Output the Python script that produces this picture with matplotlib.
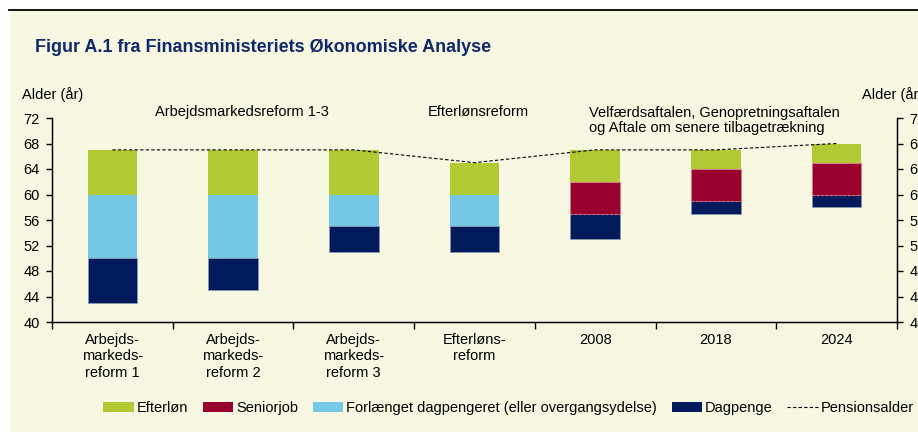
import numpy as np
import matplotlib
matplotlib.use('Agg')
import matplotlib.pyplot as plt
from matplotlib.patches import Rectangle, Patch
from matplotlib.lines import Line2D

plt.rcParams['font.family'] = ['Liberation Sans', 'DejaVu Sans']

# data (alder i år)
kategorier = ['Arbejds-\nmarkeds-\nreform 1', 'Arbejds-\nmarkeds-\nreform 2', 'Arbejds-\nmarkeds-\nreform 3',
              'Efterløns-\nreform', '2008', '2018', '2024']
dagpenge_start = [43, 45, 51, 51, 53, 57, 58]
dagpenge = [7, 5, 4, 4, 4, 2, 2]
forlaenget = [10, 10, 5, 5, 0, 0, 0]
seniorjob = [0, 0, 0, 0, 5, 5, 5]
efterloen = [7, 7, 7, 5, 5, 3, 3]
pensionsalder = [67, 67, 67, 65, 67, 67, 68]

c_efterloen = '#B1C933'
c_senior = '#98002E'
c_forl = '#74C8E6'
c_dag = '#001A5B'
bg = '#F8F7E1'
titel_farve = '#10296A'
fs = 10.5

fig = plt.figure(figsize=(9.18, 4.32), dpi=100)
fig.patch.set_facecolor('white')
fig.patches.append(Rectangle((10/918, 0), 1, 1 - 10/432, transform=fig.transFigure,
                             facecolor=bg, edgecolor='none', zorder=-10))
fig.add_artist(Line2D([9/918, 1], [1 - 9.5/432, 1 - 9.5/432], color='black', lw=1.3))

ax = fig.add_axes([52/918, 1 - 322/432, 845/918, 204/432])
ax.set_facecolor(bg)
x = np.arange(len(kategorier))
w = 0.41

d0 = np.array(dagpenge_start)
d1 = d0 + np.array(dagpenge)
f1 = d1 + np.array(forlaenget)
s1 = f1 + np.array(seniorjob)

ax.bar(x, dagpenge, w, bottom=d0, color=c_dag, edgecolor='#8894B4', lw=0.6)
ax.bar(x, forlaenget, w, bottom=d1, color=c_forl, edgecolor='none')
idx = [i for i in range(len(x)) if seniorjob[i] > 0]
ax.bar(x[idx], np.array(seniorjob)[idx], w, bottom=f1[idx], color=c_senior,
       edgecolor='#E27A92', lw=0.8, ls=(0, (2, 2)))
ax.bar(x, efterloen, w, bottom=s1, color=c_efterloen, edgecolor='none')
ax.plot(x, pensionsalder, color='black', lw=0.8, ls=(0, (3, 2)))

ax.set_xlim(-0.5, 6.5)
ax.set_ylim(40, 72)
ax.set_yticks(range(40, 73, 4))
ax.set_xticks(np.arange(-0.5, 7, 1))
ax.set_xticklabels([])
ax.set_xticks(x, minor=True)
ax.set_xticklabels(kategorier, minor=True, fontsize=fs, linespacing=1.2)
ax.tick_params(axis='x', which='major', direction='out', length=5, width=1)
ax.tick_params(axis='x', which='minor', length=0, pad=8)
ax.tick_params(axis='y', direction='out', length=4, width=1, labelsize=fs, pad=5)
ax.spines['top'].set_visible(False)
for s in ['left', 'bottom', 'right']:
    ax.spines[s].set_linewidth(1)

ax2 = ax.twinx()
ax2.set_ylim(40, 72)
ax2.set_yticks(range(40, 73, 4))
ax2.tick_params(axis='y', direction='out', length=4, width=1, labelsize=fs, pad=5)
ax2.spines['top'].set_visible(False)

fig.text(22/918, 1 - 95/432, 'Alder (år)', fontsize=fs, va='center', ha='left')
fig.text(862/918, 1 - 95/432, 'Alder (år)', fontsize=fs, va='center', ha='left')
fig.text(35/918, 1 - 47/432, 'Figur A.1 fra Finansministeriets Økonomiske Analyse',
         fontsize=13, fontweight='bold', color=titel_farve, va='center', ha='left')

ax.text(1.07, 72.9, 'Arbejdsmarkedsreform 1-3', fontsize=fs, ha='center', va='center', clip_on=False)
ax.text(3.03, 72.9, 'Efterlønsreform', fontsize=fs, ha='center', va='center', clip_on=False)
ax.text(3.95, 73.9, 'Velfærdsaftalen, Genopretningsaftalen\nog Aftale om senere tilbagetrækning',
        fontsize=fs, ha='left', va='top', clip_on=False, linespacing=1.1)

handles = [Patch(facecolor=c_efterloen), Patch(facecolor=c_senior),
           Patch(facecolor=c_forl), Patch(facecolor=c_dag),
           Line2D([0], [0], color='black', lw=0.8, ls=(0, (3, 2)))]
labels = ['Efterløn', 'Seniorjob', 'Forlænget dagpengeret (eller overgangsydelse)', 'Dagpenge', 'Pensionsalder']
fig.legend(handles, labels, loc='center left', bbox_to_anchor=(103/918, 1 - 408/432),
           ncol=5, frameon=False, fontsize=fs, handlelength=2.1, handletextpad=0.2,
           columnspacing=1.0, borderpad=0, borderaxespad=0)

fig.savefig('out.png', dpi=100, facecolor=fig.get_facecolor())
